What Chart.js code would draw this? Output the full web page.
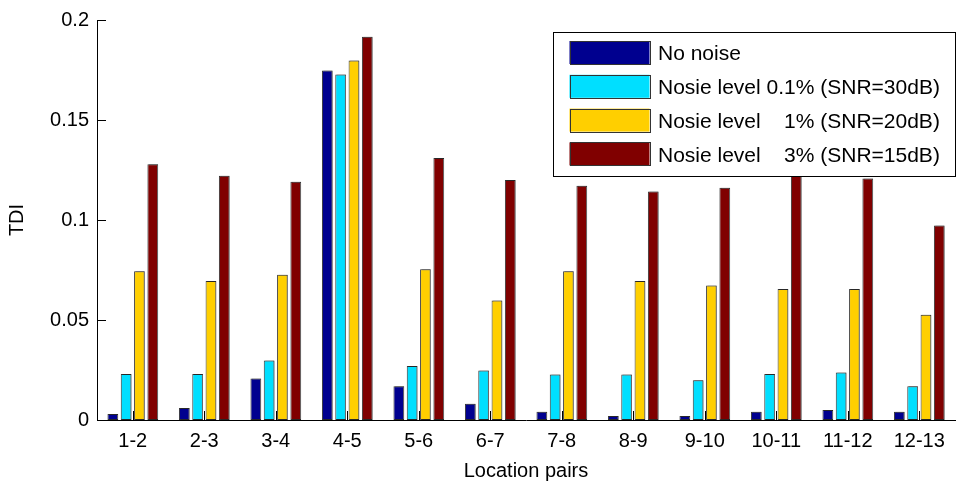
<!DOCTYPE html>
<html>
<head>
<meta charset="utf-8">
<title>TDI by location pair</title>
<script src="https://cdn.jsdelivr.net/npm/chart.js@4/dist/chart.umd.min.js"></script>
<style>
  html, body { margin: 0; padding: 0; background: #fff; }
  #wrap { width: 964px; height: 490px; }
</style>
</head>
<body>
<div id="wrap"><canvas id="c" width="964" height="490"></canvas></div>
<script>
// Location pairs along the beam
const categories = ['1-2', '2-3', '3-4', '4-5', '5-6', '6-7', '7-8', '8-9', '9-10', '10-11', '11-12', '12-13'];

// TDI values per noise case
const noNoise = [0.003, 0.006, 0.0208, 0.1747, 0.0169, 0.0081, 0.0041, 0.002, 0.002, 0.0041, 0.005, 0.0041];
const noise01 = [0.023, 0.023, 0.0298, 0.1727, 0.027, 0.0248, 0.0228, 0.0228, 0.0199, 0.023, 0.0238, 0.0169];
const noise1  = [0.0744, 0.0695, 0.0726, 0.1797, 0.0754, 0.0597, 0.0744, 0.0695, 0.0673, 0.0655, 0.0655, 0.0526];
const noise3  = [0.1279, 0.1221, 0.1191, 0.1916, 0.131, 0.120, 0.1171, 0.1143, 0.1161, 0.123, 0.1208, 0.0973];

const seriesLabels = [
  'No noise',
  'Nosie level 0.1% (SNR=30dB)',
  'Nosie level    1% (SNR=20dB)',
  'Nosie level    3% (SNR=15dB)'
];
const yTickLabels = ['0', '0.05', '0.1', '0.15', '0.2'];

const colors = ['#00008F', '#00DFFF', '#FFCF00', '#800000'];
const FONT = '"Liberation Sans", Arial, Helvetica, sans-serif';
const FONT_SIZE = 20;
const LEGEND_FONT_SIZE = 21;

Chart.defaults.font.family = FONT;
Chart.defaults.font.size = FONT_SIZE;
Chart.defaults.color = '#000';

// Inward tick marks on both axes, drawn beneath the bars
const inwardTicks = {
  id: 'inwardTicks',
  beforeDatasetsDraw(chart) {
    const { ctx, chartArea, scales } = chart;
    const len = 9;
    ctx.save();
    ctx.strokeStyle = '#000';
    ctx.lineWidth = 1;
    ctx.beginPath();
    scales.y.ticks.forEach((t, i) => {
      const y = Math.round(scales.y.getPixelForTick(i)) + 0.5;
      ctx.moveTo(chartArea.left, y);
      ctx.lineTo(chartArea.left + len, y);
    });
    scales.x.ticks.forEach((t, i) => {
      const x = Math.round(scales.x.getPixelForTick(i)) + 0.5;
      ctx.moveTo(x, chartArea.bottom);
      ctx.lineTo(x, chartArea.bottom - len);
    });
    ctx.stroke();
    ctx.restore();
  }
};

// Soft grey edge to the right of each bar
const barShade = {
  id: 'barShade',
  beforeDatasetDraw(chart) {
    const ctx = chart.ctx;
    ctx.save();
    ctx.shadowColor = 'rgba(110,110,110,0.85)';
    ctx.shadowOffsetX = 1.5;
    ctx.shadowOffsetY = 0;
    ctx.shadowBlur = 0;
  },
  afterDatasetDraw(chart) {
    chart.ctx.restore();
  }
};

// Boxed legend in the upper right corner of the plot
const boxLegend = {
  id: 'boxLegend',
  afterDraw(chart) {
    const { ctx, chartArea } = chart;
    const right = chartArea.right;
    const top = chartArea.top + 12;
    const width = 402;
    const height = 144;
    const left = right - width;
    ctx.save();
    ctx.fillStyle = '#fff';
    ctx.fillRect(left, top, width, height);
    ctx.strokeStyle = '#000';
    ctx.lineWidth = 1;
    ctx.strokeRect(Math.round(left) + 0.5, Math.round(top) + 0.5, width, height);
    ctx.font = LEGEND_FONT_SIZE + 'px ' + FONT;
    ctx.textBaseline = 'middle';
    ctx.textAlign = 'left';
    chart.data.datasets.forEach((ds, i) => {
      const cy = top + 20.5 + i * 33.8;
      const sx = left + 16.5;
      ctx.fillStyle = ds.backgroundColor;
      ctx.fillRect(sx, cy - 11.5, 80, 23);
      ctx.strokeStyle = '#333';
      ctx.strokeRect(Math.round(sx) + 0.5, Math.round(cy - 11.5) + 0.5, 80, 23);
      ctx.fillStyle = '#000';
      ctx.fillText(ds.label, left + 105, cy + 2);
    });
    ctx.restore();
  }
};

const seriesData = [noNoise, noise01, noise1, noise3];

new Chart(document.getElementById('c'), {
  type: 'bar',
  data: {
    labels: categories,
    datasets: seriesData.map((d, i) => ({
      label: seriesLabels[i],
      data: d,
      backgroundColor: colors[i],
      borderColor: 'rgba(20,20,20,0.85)',
      borderWidth: 1,
      borderSkipped: false,
      categoryPercentage: 0.745,
      barPercentage: 0.8
    }))
  },
  options: {
    responsive: false,
    animation: false,
    devicePixelRatio: 1,
    layout: { padding: { left: 0, right: 9, top: 17, bottom: 0 } },
    plugins: {
      legend: { display: false },
      tooltip: { enabled: false }
    },
    scales: {
      x: {
        grid: { display: false, drawTicks: false },
        border: { display: true, color: '#000', width: 1 },
        ticks: { padding: 9, maxRotation: 0, autoSkip: false },
        title: { display: true, text: 'Location pairs', padding: { top: 0, bottom: 7 } },
        afterFit(scale) { scale.height = 70; }
      },
      y: {
        min: 0,
        max: 0.2,
        grid: { display: false, drawTicks: false },
        border: { display: true, color: '#000', width: 1 },
        ticks: {
          stepSize: 0.05,
          padding: 8,
          callback: (v, i) => yTickLabels[i]
        },
        title: { display: true, text: 'TDI', padding: { top: 5, bottom: 0 } },
        afterFit(scale) { scale.width = 97; }
      }
    }
  },
  plugins: [inwardTicks, barShade, boxLegend]
});
</script>
</body>
</html>
